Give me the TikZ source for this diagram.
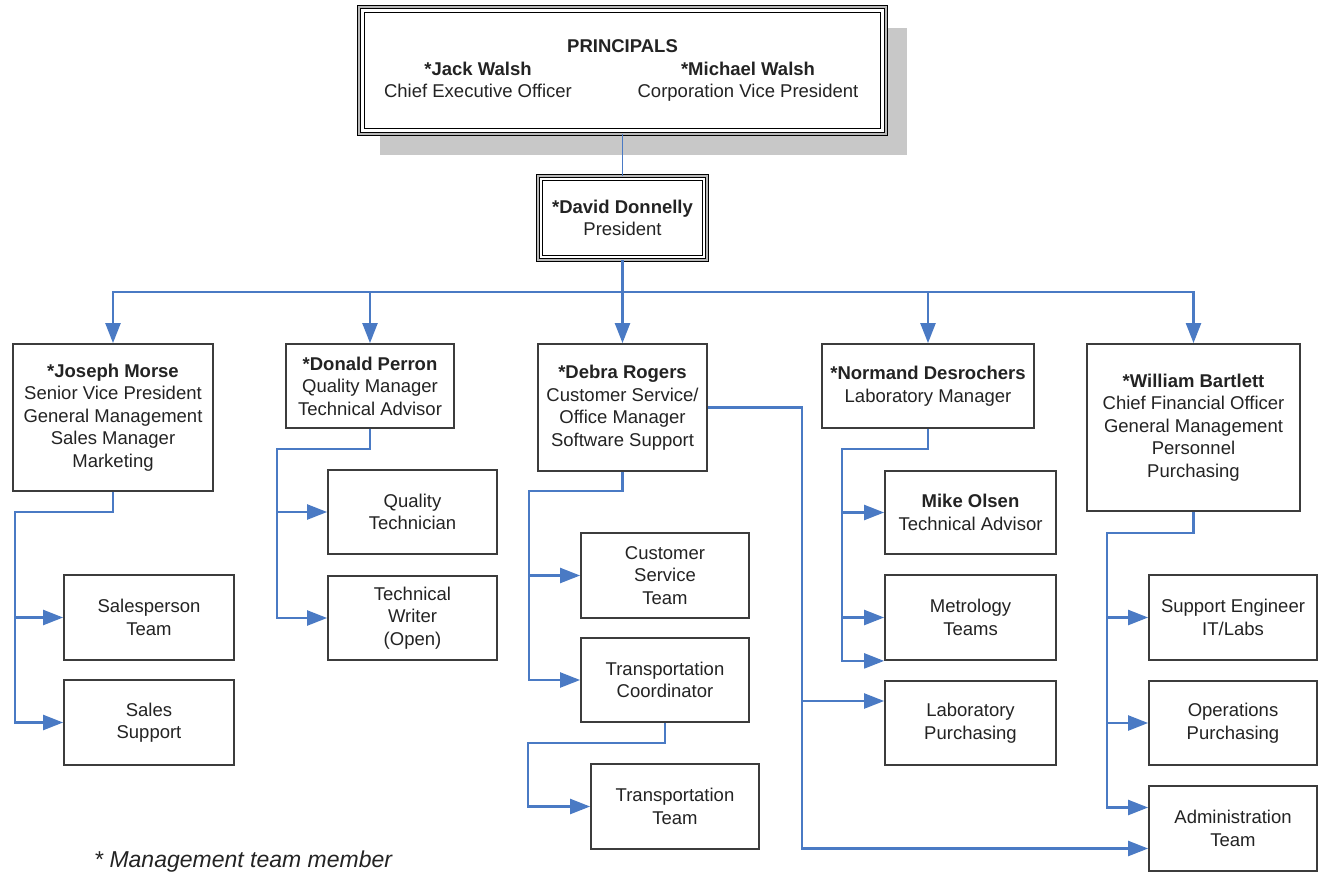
\documentclass[tikz,border=0pt]{standalone}
\usepackage{fontspec}
\setmainfont{Liberation Sans}
\usetikzlibrary{arrows.meta}
\definecolor{lnblue}{RGB}{74,122,196}
\definecolor{bxgray}{RGB}{60,60,60}
\definecolor{shgray}{RGB}{200,200,200}
\definecolor{txgray}{RGB}{35,35,35}
\begin{document}
\begin{tikzpicture}[x=1pt,y=-1pt,
  txtfont/.style={font=\fontsize{18.5}{22.5}\selectfont, text=txgray},
  box/.style={draw=bxgray, line width=1.8pt, fill=white, align=center, inner sep=0pt, txtfont},
  dblbox/.style={box, draw=black, line width=0.8pt, double=gray!55, double distance=2.2pt},
  conn/.style={draw=lnblue, line width=2.3pt},
  arr/.style={conn, -{Triangle[length=20pt,width=15pt]}},
]
\useasboundingbox[fill=white] (0,0) rectangle (1321,875);

% shadow of the principals box
\fill[shgray] (380,28) rectangle (907,155);

% top boxes
\node[dblbox, minimum width=527pt, minimum height=127pt] (princ) at (622.5,70.5)
  {\textbf{PRINCIPALS}\\
   \makebox[200pt]{\textbf{*Jack Walsh}}\makebox[70pt]{}\makebox[200pt]{\textbf{*Michael Walsh}}\makebox[19pt]{}\\
   \makebox[200pt]{Chief Executive Officer}\makebox[70pt]{}\makebox[200pt]{Corporation Vice President}\makebox[19pt]{}};
\draw[black, line width=1.2pt] ([shift={(6pt,-6pt)}]princ.north west) rectangle ([shift={(-6pt,6pt)}]princ.south east);

\node[dblbox, minimum width=169pt, minimum height=84pt] (david) at (622.5,218)
  {\textbf{*David Donnelly}\\President};
\draw[black, line width=1.2pt] ([shift={(5pt,-5pt)}]david.north west) rectangle ([shift={(-5pt,5pt)}]david.south east);

% second level
\node[box, minimum width=200pt, minimum height=147pt] (joseph) at (113,417.5)
  {\textbf{*Joseph Morse}\\Senior Vice President\\General Management\\Sales Manager\\Marketing};
\node[box, minimum width=168pt, minimum height=84pt] (donald) at (370,386)
  {\textbf{*Donald Perron}\\Quality Manager\\Technical Advisor};
\node[box, minimum width=169pt, minimum height=127pt] (debra) at (622.5,407.5)
  {\textbf{*Debra Rogers}\\Customer Service/\\Office Manager\\Software Support};
\node[box, minimum width=212pt, minimum height=84pt] (normand) at (928,386)
  {\textbf{*Normand Desrochers}\\Laboratory Manager};
\node[box, minimum width=213pt, minimum height=167pt] (william) at (1193.5,427.5)
  {\textbf{*William Bartlett}\\Chief Financial Officer\\General Management\\Personnel\\Purchasing};

% third level
\node[box, minimum width=170pt, minimum height=85pt] (salesp) at (149,617.5) {Salesperson\\Team};
\node[box, minimum width=170pt, minimum height=85pt] (salessup) at (149,722.5) {Sales\\Support};
\node[box, minimum width=169pt, minimum height=84pt] (qtech) at (412.5,512) {Quality\\Technician};
\node[box, minimum width=169pt, minimum height=84pt] (twriter) at (412.5,618) {Technical\\Writer\\(Open)};
\node[box, minimum width=168pt, minimum height=85pt] (cst) at (665,575.5) {Customer\\Service\\Team};
\node[box, minimum width=168pt, minimum height=84pt] (tcoord) at (665,680) {Transportation\\Coordinator};
\node[box, minimum width=168pt, minimum height=85pt] (tteam) at (675,806.5) {Transportation\\Team};
\node[box, minimum width=171pt, minimum height=83pt] (mike) at (970.5,512.5) {\textbf{Mike Olsen}\\Technical Advisor};
\node[box, minimum width=171pt, minimum height=85pt] (metro) at (970.5,617.5) {Metrology\\Teams};
\node[box, minimum width=171pt, minimum height=84pt] (labpur) at (970.5,723) {Laboratory\\Purchasing};
\node[box, minimum width=168pt, minimum height=85pt] (support) at (1233,617.5) {Support Engineer\\IT/Labs};
\node[box, minimum width=168pt, minimum height=84pt] (ops) at (1233,723) {Operations\\Purchasing};
\node[box, minimum width=168pt, minimum height=85pt] (admin) at (1233,828.5) {Administration\\Team};

\node[font=\fontsize{23}{27}\selectfont\itshape, text=txgray, anchor=west, inner sep=0pt] (note) at (94,862) {* Management team member};

% connectors: top
\draw[conn, line width=1.3pt] (princ.south) -- (david.north);
\coordinate (bus) at (622.5,292);
\draw[conn, line width=2.6pt] (david.south) -- (bus);
\draw[arr] (bus) -| (joseph.north);
\draw[arr] (bus) -| (donald.north);
\draw[arr] (bus) -- (debra.north);
\draw[arr] (bus) -| (normand.north);
\draw[arr] (bus) -| (william.north);

% Joseph
\coordinate (jv) at (15,512);
\draw[arr] (joseph.south) |- (jv) |- (salesp.west);
\draw[arr] (jv) |- (salessup.west);

% Donald
\coordinate (dv) at (277,449);
\draw[arr] (donald.south) |- (dv) |- (qtech.west);
\draw[arr] (dv) |- (twriter.west);

% Debra
\coordinate (rv) at (529,491);
\draw[arr] (debra.south) |- (rv) |- (cst.west);
\draw[arr] (rv) |- (tcoord.west);
\coordinate (tv) at (528,743);
\draw[arr] (tcoord.south) |- (tv) |- (tteam.west);
\coordinate (dr) at (802,407.5);
\draw[arr] (debra.east) -- (dr) |- ([yshift=22pt]labpur.west);
\draw[arr] (dr) |- ([yshift=-20pt]admin.west);

% Normand
\coordinate (nv) at (842,449);
\draw[arr] (normand.south) |- (nv) |- (mike.west);
\draw[arr] (nv) |- (metro.west);
\draw[arr] (nv) |- (metro.south west);

% William
\coordinate (wv) at (1107,533);
\draw[arr] (william.south) |- (wv) |- (support.west);
\draw[arr] (wv) |- (ops.west);
\draw[arr] (wv) |- ([yshift=21pt]admin.west);
\end{tikzpicture}
\end{document}
